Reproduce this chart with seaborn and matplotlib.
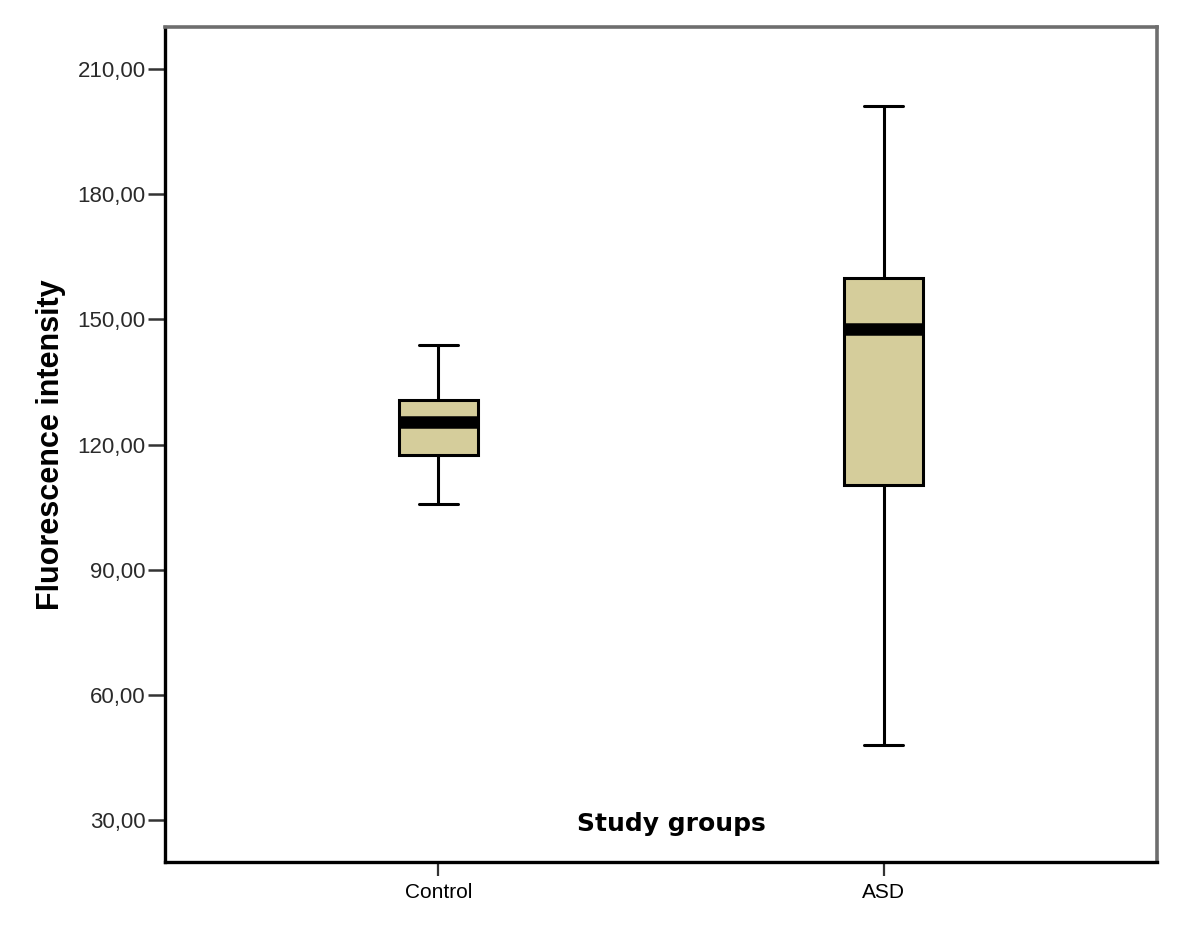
import matplotlib
matplotlib.use("Agg")
import matplotlib.pyplot as plt
import pandas as pd
import seaborn as sns

# five-number summaries: min, Q1, median, Q3, max
groups = ["Control", "ASD"]
control_vals = [105.7, 117.5, 125.5, 130.7, 143.9]
asd_vals = [48.0, 110.3, 147.7, 159.9, 201.0]

yticks = [30, 60, 90, 120, 150, 180, 210]
ytick_labels = [f"{v:.2f}".replace(".", ",") for v in yticks]

box_color = "#D5CD9B"

df = pd.DataFrame({
    "group": ["Control"] * len(control_vals) + ["ASD"] * len(asd_vals),
    "value": control_vals + asd_vals,
})

sns.set_style("ticks")
plt.rcParams["font.family"] = ["Liberation Sans", "DejaVu Sans"]

fig = plt.figure(figsize=(12, 9.52), dpi=100)
ax = fig.add_axes([0.1375, 0.0945, 0.8267, 0.8771])

sns.boxplot(
    data=df, x="group", y="value", order=groups,
    color=box_color, saturation=1, width=0.176,
    whis=(0, 100), showfliers=False,
    linewidth=2.2, linecolor="black",
    medianprops={"linewidth": 9, "color": "black"},
    ax=ax,
)

ax.set_xlim(-0.614, 1.614)
ax.set_ylim(20, 220)
ax.set_yticks(yticks)
ax.set_yticklabels(ytick_labels, fontsize=16, color="#2a2a2a")
ax.tick_params(axis="y", left=True, length=12, width=1.8, color="#333333",
               pad=2)
ax.tick_params(axis="x", bottom=True, length=10, width=1.6, color="#333333",
               pad=5, labelsize=15, labelcolor="black")

# y label outside, x label sits inside the plot area (SPSS style)
ax.set_ylabel("Fluorescence intensity", fontsize=22, fontweight="bold",
              color="black")
ax.yaxis.set_label_coords(-0.100, 0.5)
ax.set_xlabel("Study groups", fontsize=18, fontweight="bold",
              family="DejaVu Sans", color="black")
ax.xaxis.set_label_coords(0.51, 0.060)

for side in ["left", "bottom"]:
    ax.spines[side].set_color("black")
    ax.spines[side].set_linewidth(2.4)
for side in ["top", "right"]:
    ax.spines[side].set_color("#6e6e6e")
    ax.spines[side].set_linewidth(2.6)

fig.savefig("out.png", dpi=100)
